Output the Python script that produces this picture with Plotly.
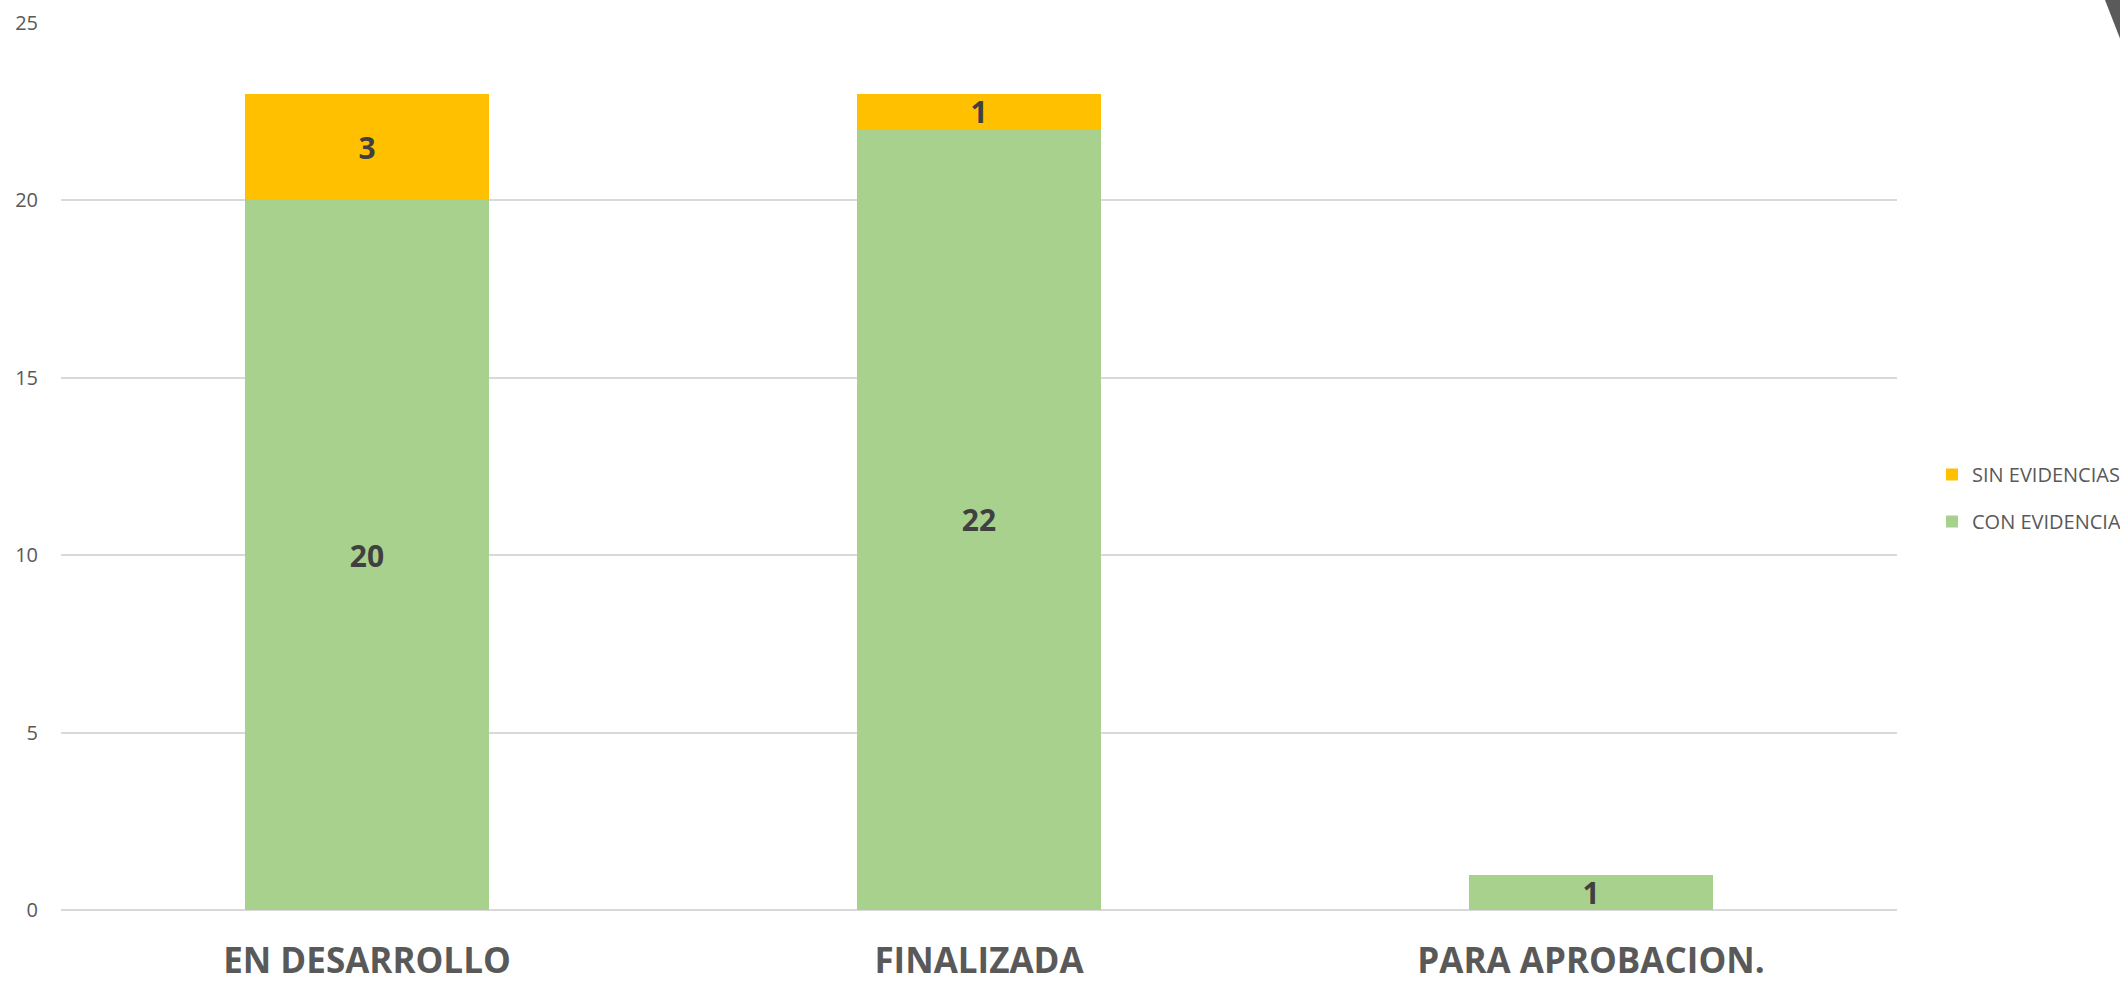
import plotly.graph_objects as go

categories = ["EN DESARROLLO", "FINALIZADA", "PARA APROBACION."]
con_evidencia = [20, 22, 1]
sin_evidencias = [3, 1, 0]
y_ticks = [0, 5, 10, 15, 20, 25]

W, H = 2120, 982
ML, MR, MT, MB = 61, 223, 23, 72

def labels(vals):
    return [str(v) if v else "" for v in vals]

label_font = dict(family="Open Sans", size=30, color="#404040", weight="bold")

fig = go.Figure()
fig.add_trace(go.Bar(
    x=categories, y=con_evidencia, name="CON EVIDENCIA",
    marker=dict(color="#A9D18E", line=dict(width=0)),
    text=labels(con_evidencia), textposition="inside", insidetextanchor="middle",
    textangle=0, constraintext="none", cliponaxis=False,
    textfont=label_font, legendrank=2, legendgroup="con",
))
fig.add_trace(go.Bar(
    x=categories, y=sin_evidencias, name="SIN EVIDENCIAS",
    marker=dict(color="#FFC000", line=dict(width=0)),
    text=labels(sin_evidencias), textposition="inside", insidetextanchor="middle",
    textangle=0, constraintext="none", cliponaxis=False,
    textfont=label_font, legendrank=1, legendgroup="sin",
))

pw = W - ML - MR
ph = H - MT - MB
def px(xp): return (xp - ML) / pw
def py(yp): return (H - MB - yp) / ph

fig.update_layout(
    width=W, height=H, autosize=False,
    margin=dict(l=ML, r=MR, t=MT, b=MB, pad=0, autoexpand=False),
    barmode="stack", bargap=0.6,
    plot_bgcolor="white", paper_bgcolor="white",
    uniformtext=dict(mode="show", minsize=10),
    font=dict(family="Open Sans", color="#595959"),
    legend=dict(
        x=px(1932), y=py(498), xanchor="left", yanchor="middle",
        traceorder="grouped", tracegroupgap=18,
        font=dict(size=20, color="#595959"),
        itemwidth=30, bgcolor="rgba(0,0,0,0)",
    ),
    showlegend=True,
    xaxis=dict(
        automargin=False,
        showgrid=False, showline=False, zeroline=False,
        tickfont=dict(family="Open Sans", size=35, color="#595959", weight="bold"),
        ticks="", ticklabelstandoff=27,
    ),
    yaxis=dict(
        automargin=False,
        range=[0, 25], tickvals=y_ticks, showgrid=True, gridcolor="#D9D9D9", gridwidth=2,
        zeroline=True, zerolinecolor="#D9D9D9", zerolinewidth=2,
        showline=False, ticks="", ticklabelstandoff=22,
        tickfont=dict(family="Open Sans", size=20, color="#595959"),
    ),
    shapes=[dict(
        type="path", xref="paper", yref="paper",
        path=f"M {px(2105)} {py(0)} L {px(2121)} {py(0)} L {px(2121)} {py(41)} Z",
        fillcolor="#5A5A5A", line=dict(width=0), layer="above",
    )],
)
fig.write_html(
    "out.html",
    config={"responsive": False, "displayModeBar": False},
    post_script="document.body.style.margin='0';document.body.style.overflow='hidden';",
)
